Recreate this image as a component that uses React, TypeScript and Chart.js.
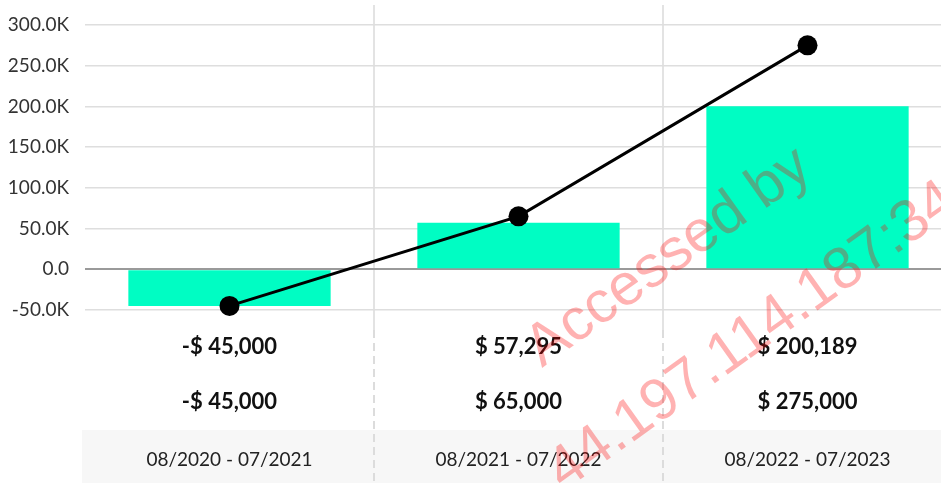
import React, { useEffect, useRef } from 'react';
import { Chart, registerables } from 'chart.js';

Chart.register(...registerables);

const categories = ['08/2020 - 07/2021', '08/2021 - 07/2022', '08/2022 - 07/2023'];
const barValues = [-45000, 57295, 200189];
const lineValues = [-45000, 65000, 275000];
const barLabels = ['-$ 45,000', '$ 57,295', '$ 200,189'];
const lineLabels = ['-$ 45,000', '$ 65,000', '$ 275,000'];
const yTicks = [-50000, 0, 50000, 100000, 150000, 200000, 250000, 300000];
const yTickLabels = ['-50.0K', '0.0', '50.0K', '100.0K', '150.0K', '200.0K', '250.0K', '300.0K'];
const yMin = -74561;
const yMax = 324561;
const watermarkLines = ['Accessed by', '44.197.114.187:34'];

const FONT = 'Lato, "Open Sans", sans-serif';

const tablePlugin = {
  id: 'tableBelow',
  afterDraw(chart: any) {
    const { ctx, chartArea, scales } = chart;
    const x = scales.x;
    const W = chart.width;
    const H = chart.height;
    const b = chartArea.bottom;
    ctx.save();
    ctx.fillStyle = '#f7f7f7';
    ctx.fillRect(chartArea.left - 3, b + 100, W, H - (b + 100));
    ctx.strokeStyle = '#dcdcdc';
    ctx.lineWidth = 2;
    ctx.setLineDash([8, 5]);
    for (let i = 1; i < categories.length; i++) {
      const px = Math.round((x.getPixelForValue(i - 1) + x.getPixelForValue(i)) / 2);
      ctx.beginPath();
      ctx.moveTo(px, b);
      ctx.lineTo(px, H);
      ctx.stroke();
    }
    ctx.setLineDash([]);
    ctx.textAlign = 'center';
    ctx.textBaseline = 'middle';
    categories.forEach((c, i) => {
      const px = x.getPixelForValue(i);
      ctx.fillStyle = '#111';
      ctx.font = `bold 22px ${FONT}`;
      ctx.fillText(barLabels[i], px, b + 17);
      ctx.fillText(lineLabels[i], px, b + 72);
      ctx.fillStyle = '#222';
      ctx.font = `19px ${FONT}`;
      ctx.fillText(c, px, b + 130);
    });
    ctx.translate(542, 368);
    ctx.rotate((-35.5 * Math.PI) / 180);
    ctx.fillStyle = 'rgba(255,0,0,0.3)';
    ctx.font = '59px "Liberation Sans", Arial, sans-serif';
    ctx.textAlign = 'left';
    ctx.textBaseline = 'alphabetic';
    ctx.fillText(watermarkLines[0], 0, 0);
    ctx.fillText(watermarkLines[1], -54, 113);
    ctx.restore();
  },
};

export default function App() {
  const ref = useRef<HTMLCanvasElement | null>(null);
  useEffect(() => {
    if (!ref.current) return;
    const chart = new Chart(ref.current, {
      type: 'bar',
      data: {
        labels: categories,
        datasets: [
          {
            type: 'line',
            data: lineValues,
            borderColor: '#000',
            backgroundColor: '#000',
            borderWidth: 3,
            pointRadius: 10,
            pointBackgroundColor: '#000',
            pointBorderWidth: 0,
            tension: 0,
            clip: false,
            order: 0,
          } as any,
          {
            type: 'bar',
            data: barValues,
            backgroundColor: '#00FDC3',
            borderWidth: 0,
            barPercentage: 0.7,
            categoryPercentage: 1,
            order: 1,
          },
        ],
      },
      options: {
        responsive: false,
        animation: false,
        layout: { autoPadding: false, padding: { top: 5, bottom: 153, left: 0, right: 0 } },
        plugins: { legend: { display: false }, tooltip: { enabled: false } },
        scales: {
          x: {
            offset: true,
            ticks: { display: false },
            border: { display: false },
            grid: {
              offset: true,
              drawTicks: false,
              lineWidth: 2,
              color: (c: any) => (c.index === 0 ? 'rgba(0,0,0,0)' : '#e3e3e3'),
            },
          },
          y: {
            min: yMin,
            max: yMax,
            border: { display: false },
            afterBuildTicks: (axis: any) => {
              axis.ticks = yTicks.map((v) => ({ value: v }));
            },
            afterFit: (axis: any) => {
              axis.width = 85;
              axis.paddingTop = 0;
              axis.paddingBottom = 0;
            },
            ticks: {
              padding: 16,
              color: '#333',
              font: { family: FONT, size: 19 },
              callback: (v: any) => yTickLabels[yTicks.indexOf(v)] ?? '',
            },
            grid: {
              drawTicks: false,
              lineWidth: (c: any) => (c.tick && c.tick.value === 0 ? 2 : 1.5),
              color: (c: any) => (c.tick && c.tick.value === 0 ? '#9a9a9a' : '#dedede'),
            },
          },
        },
      },
      plugins: [tablePlugin],
    });
    return () => chart.destroy();
  }, []);
  return (
    <div style={{ position: 'fixed', left: 0, top: 0, width: 941, height: 483, overflow: 'hidden', background: '#fff' }}>
      <div style={{ width: 952, height: 483 }}>
        <canvas ref={ref} width={952} height={483} style={{ display: 'block' }} />
      </div>
    </div>
  );
}
